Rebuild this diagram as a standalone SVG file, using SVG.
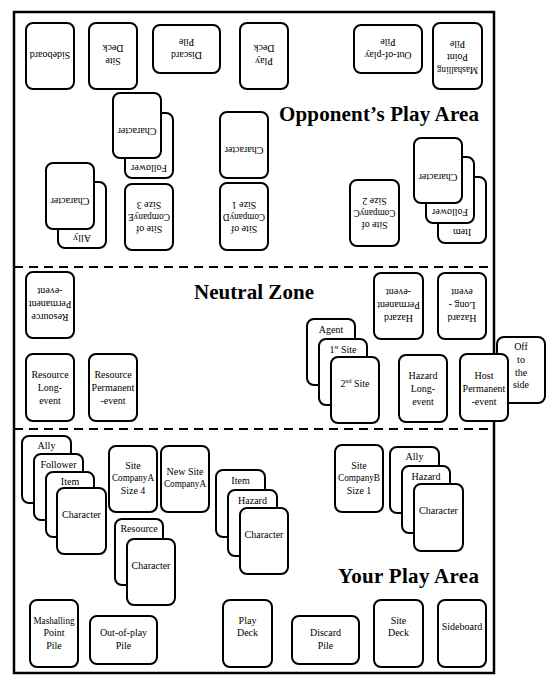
<svg xmlns="http://www.w3.org/2000/svg" width="556" height="691" viewBox="0 0 556 691">
<style>
.c{fill:#fff;stroke:#000;stroke-width:2}
.t{font-family:"Liberation Serif","Times New Roman",serif;font-size:10px;text-anchor:middle;fill:#000}
.h{font-family:"Liberation Serif","Times New Roman",serif;font-size:21px;font-weight:bold;fill:#000}
.d{stroke:#000;stroke-width:2;stroke-dasharray:9 6;fill:none}
.s{font-size:6px}
</style>
<rect x="0" y="0" width="556" height="691" fill="#fff"/>
<g id="frame">
<rect x="14" y="12" width="480" height="661" fill="#fff" stroke="#000" stroke-width="2.5"/>
<line class="d" x1="14" y1="267" x2="494" y2="267"/>
<line class="d" x1="14" y1="429" x2="494" y2="429"/>
</g>
<g id="titles">
<text class="h" x="279" y="121" textLength="200">Opponent’s Play Area</text>
<text class="h" x="194" y="299" textLength="120">Neutral Zone</text>
<text class="h" x="338" y="583" textLength="141">Your Play Area</text>
</g>
<g id="connectors"></g>
<!-- Opponent area (upside down) -->
<g id="opp-sideboard" transform="rotate(180 50 56)"><rect class="c" x="26" y="23" width="48" height="66" rx="7"/><text class="t" x="50" y="60">Sideboard</text></g>
<g id="opp-site-deck" transform="rotate(180 113 56)"><rect class="c" x="89" y="23" width="48" height="66" rx="7"/><text class="t" x="113" y="54">Site</text><text class="t" x="113" y="67">Deck</text></g>
<g id="opp-discard" transform="rotate(180 186.5 49)"><rect class="c" x="153" y="25" width="67" height="48" rx="7"/><text class="t" x="186.5" y="46">Discard</text><text class="t" x="186.5" y="59">Pile</text></g>
<g id="opp-play-deck" transform="rotate(180 264 56)"><rect class="c" x="240" y="23" width="48" height="66" rx="7"/><text class="t" x="264" y="54">Play</text><text class="t" x="264" y="67">Deck</text></g>
<g id="opp-out-of-play" transform="rotate(180 388 49)"><rect class="c" x="354" y="25" width="68" height="48" rx="7"/><text class="t" x="388" y="46">Out-of-play</text><text class="t" x="388" y="59">Pile</text></g>
<g id="opp-marshalling" transform="rotate(180 457.5 56)"><rect class="c" x="433" y="23" width="49" height="66" rx="7"/><text class="t" x="457.5" y="45" textLength="41" lengthAdjust="spacingAndGlyphs">Mashalling</text><text class="t" x="457.5" y="58">Point</text><text class="t" x="457.5" y="71">Pile</text></g>
<g id="opp-follower-1" transform="rotate(180 149 145.5)"><rect class="c" x="125" y="113" width="48" height="65" rx="7"/><text class="t" x="149" y="126">Follower</text></g>
<g id="opp-character-1" transform="rotate(180 137 125.5)"><rect class="c" x="113" y="93" width="48" height="65" rx="7"/><text class="t" x="137" y="123">Character</text></g>
<g id="opp-character-2" transform="rotate(180 244 145)"><rect class="c" x="220" y="112" width="48" height="66" rx="7"/><text class="t" x="244" y="143">Character</text></g>
<g id="opp-ally" transform="rotate(180 82 215)"><rect class="c" x="58" y="182" width="48" height="66" rx="7"/><text class="t" x="82" y="195">Ally</text></g>
<g id="opp-character-3" transform="rotate(180 70 196)"><rect class="c" x="46" y="163" width="48" height="66" rx="7"/><text class="t" x="70" y="194">Character</text></g>
<g id="opp-site-e" transform="rotate(180 149 217)"><rect class="c" x="125" y="184" width="48" height="66" rx="7"/><text class="t" x="149" y="208">Site of</text><text class="t" x="149" y="220" textLength="42" lengthAdjust="spacingAndGlyphs">CompanyE</text><text class="t" x="149" y="232">Size 3</text></g>
<g id="opp-site-d" transform="rotate(180 244 216.5)"><rect class="c" x="220" y="183" width="48" height="67" rx="7"/><text class="t" x="244" y="207">Site of</text><text class="t" x="244" y="219" textLength="42" lengthAdjust="spacingAndGlyphs">CompanyD</text><text class="t" x="244" y="231">Size 1</text></g>
<g id="opp-site-c" transform="rotate(180 374.5 213)"><rect class="c" x="350" y="180" width="49" height="66" rx="7"/><text class="t" x="374.5" y="204">Site of</text><text class="t" x="374.5" y="216" textLength="42" lengthAdjust="spacingAndGlyphs">CompanyC</text><text class="t" x="374.5" y="228">Size 2</text></g>
<g id="opp-item" transform="rotate(180 462 210)"><rect class="c" x="438" y="177" width="48" height="66" rx="7"/><text class="t" x="462" y="191">Item</text></g>
<g id="opp-follower-2" transform="rotate(180 450 190)"><rect class="c" x="426" y="157" width="48" height="66" rx="7"/><text class="t" x="450" y="171">Follower</text></g>
<g id="opp-character-4" transform="rotate(180 438 170.5)"><rect class="c" x="414" y="138" width="48" height="65" rx="7"/><text class="t" x="438" y="167">Character</text></g>
<!-- Neutral zone -->
<g id="opp-resource-permanent" transform="rotate(180 50 305)"><rect class="c" x="26" y="272" width="48" height="66" rx="7"/><text class="t" x="50" y="296">Resource</text><text class="t" x="50" y="309">Permanent</text><text class="t" x="50" y="322">-event</text></g>
<g id="opp-hazard-permanent" transform="rotate(180 398.5 306)"><rect class="c" x="374" y="273" width="49" height="66" rx="7"/><text class="t" x="398.5" y="297">Hazard</text><text class="t" x="398.5" y="310">Permanent</text><text class="t" x="398.5" y="323">-event</text></g>
<g id="opp-hazard-long" transform="rotate(180 462 306)"><rect class="c" x="438" y="273" width="48" height="66" rx="7"/><text class="t" x="462" y="297">Hazard</text><text class="t" x="462" y="310">Long -</text><text class="t" x="462" y="323">event</text></g>
<g id="resource-long"><rect class="c" x="26" y="354" width="48" height="67" rx="7"/><text class="t" x="50" y="378">Resource</text><text class="t" x="50" y="391">Long-</text><text class="t" x="50" y="404">event</text></g>
<g id="resource-permanent"><rect class="c" x="89" y="354" width="48" height="67" rx="7"/><text class="t" x="113" y="378">Resource</text><text class="t" x="113" y="391">Permanent</text><text class="t" x="113" y="404">-event</text></g>
<g id="agent"><rect class="c" x="307" y="319" width="48" height="66" rx="7"/><text class="t" x="331" y="333">Agent</text></g>
<g id="site-1st"><rect class="c" x="319" y="339" width="48" height="66" rx="7"/><text class="t" x="343" y="353">1<tspan class="s" dy="-4">st</tspan><tspan dy="4"> Site</tspan></text></g>
<g id="site-2nd"><rect class="c" x="331" y="357" width="48" height="66" rx="7"/><text class="t" x="355" y="387">2<tspan class="s" dy="-4">nd</tspan><tspan dy="4"> Site</tspan></text></g>
<g id="hazard-long"><rect class="c" x="399" y="355" width="48" height="67" rx="7"/><text class="t" x="423" y="379">Hazard</text><text class="t" x="423" y="392">Long-</text><text class="t" x="423" y="405">event</text></g>
<g id="off-to-the-side"><rect class="c" x="497" y="337" width="48" height="66" rx="7"/><text class="t" x="521" y="350">Off</text><text class="t" x="521" y="363">to</text><text class="t" x="521" y="376">the</text><text class="t" x="521" y="388">side</text></g>
<g id="host-permanent"><rect class="c" x="460" y="354" width="48" height="67" rx="7"/><text class="t" x="484" y="379">Host</text><text class="t" x="484" y="392">Permanent</text><text class="t" x="484" y="405">-event</text></g>
<!-- Your area -->
<g id="ally-1"><rect class="c" x="22" y="436" width="49" height="67" rx="7"/><text class="t" x="46.5" y="449">Ally</text></g>
<g id="follower"><rect class="c" x="34" y="454" width="49" height="66" rx="7"/><text class="t" x="58.5" y="468">Follower</text></g>
<g id="item-1"><rect class="c" x="46" y="472" width="48" height="65" rx="7"/><text class="t" x="70" y="485">Item</text></g>
<g id="character-1"><rect class="c" x="57" y="488" width="49" height="66" rx="7"/><text class="t" x="81.5" y="518">Character</text></g>
<g id="site-a"><rect class="c" x="109" y="446" width="48" height="66" rx="7"/><text class="t" x="133" y="469">Site</text><text class="t" x="133" y="481" textLength="42" lengthAdjust="spacingAndGlyphs">CompanyA</text><text class="t" x="133" y="494">Size 4</text></g>
<g id="new-site-a"><rect class="c" x="161" y="446" width="48" height="66" rx="7"/><text class="t" x="185" y="475">New Site</text><text class="t" x="185" y="487" textLength="42" lengthAdjust="spacingAndGlyphs">CompanyA</text></g>
<g id="resource"><rect class="c" x="115" y="519" width="48" height="66" rx="7"/><text class="t" x="139" y="532">Resource</text></g>
<g id="character-2"><rect class="c" x="127" y="539" width="48" height="66" rx="7"/><text class="t" x="151" y="569">Character</text></g>
<g id="item-2"><rect class="c" x="216" y="470" width="49" height="67" rx="7"/><text class="t" x="240.5" y="484">Item</text></g>
<g id="hazard-1"><rect class="c" x="228" y="490" width="49" height="66" rx="7"/><text class="t" x="252.5" y="504">Hazard</text></g>
<g id="character-3"><rect class="c" x="240" y="508" width="48" height="66" rx="7"/><text class="t" x="264" y="538">Character</text></g>
<g id="site-b"><rect class="c" x="335" y="445" width="48" height="67" rx="7"/><text class="t" x="359" y="469">Site</text><text class="t" x="359" y="481" textLength="42" lengthAdjust="spacingAndGlyphs">CompanyB</text><text class="t" x="359" y="494">Size 1</text></g>
<g id="ally-2"><rect class="c" x="390" y="447" width="49" height="66" rx="7"/><text class="t" x="414.5" y="460">Ally</text></g>
<g id="hazard-2"><rect class="c" x="402" y="466" width="48" height="67" rx="7"/><text class="t" x="426" y="480">Hazard</text></g>
<g id="character-4"><rect class="c" x="414" y="484" width="49" height="67" rx="7"/><text class="t" x="438.5" y="514">Character</text></g>
<g id="marshalling"><rect class="c" x="30" y="600" width="48" height="67" rx="7"/><text class="t" x="54" y="624" textLength="41" lengthAdjust="spacingAndGlyphs">Mashalling</text><text class="t" x="54" y="636">Point</text><text class="t" x="54" y="649">Pile</text></g>
<g id="out-of-play"><rect class="c" x="90" y="616" width="67" height="48" rx="7"/><text class="t" x="123.5" y="636">Out-of-play</text><text class="t" x="123.5" y="649">Pile</text></g>
<g id="play-deck"><rect class="c" x="223" y="600" width="49" height="67" rx="7"/><text class="t" x="247.5" y="624">Play</text><text class="t" x="247.5" y="636">Deck</text></g>
<g id="discard"><rect class="c" x="292" y="616" width="67" height="48" rx="7"/><text class="t" x="325.5" y="636">Discard</text><text class="t" x="325.5" y="649">Pile</text></g>
<g id="site-deck"><rect class="c" x="374" y="600" width="49" height="67" rx="7"/><text class="t" x="398.5" y="624">Site</text><text class="t" x="398.5" y="636">Deck</text></g>
<g id="sideboard"><rect class="c" x="438" y="600" width="48" height="67" rx="7"/><text class="t" x="462" y="630">Sideboard</text></g>
</svg>
